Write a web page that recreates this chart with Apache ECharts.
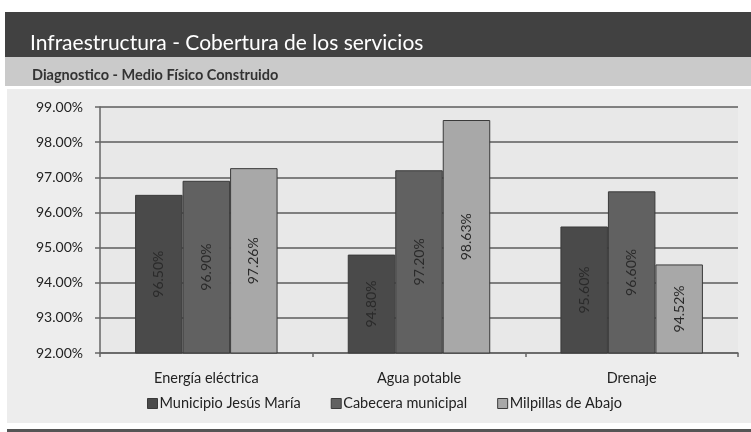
<!DOCTYPE html>
<html>
<head>
<meta charset="utf-8">
<script src="https://cdn.jsdelivr.net/npm/echarts@6/dist/echarts.min.js"></script>
<style>
html,body{margin:0;padding:0;background:#fff;}
#chart{width:751px;height:432px;}
</style>
</head>
<body>
<div id="chart"></div>
<script>
const categories = ['Energía eléctrica', 'Agua potable', 'Drenaje'];
const seriesNames = ['Municipio Jesús María', 'Cabecera municipal', 'Milpillas de Abajo'];
const municipio = [96.50, 94.80, 95.60];
const cabecera = [96.90, 97.20, 96.60];
const milpillas = [97.26, 98.63, 94.52];
const titleText = 'Infraestructura - Cobertura de los servicios';
const subtitleText = 'Diagnostico - Medio Físico Construido';

const FONT = "Lato, 'DejaVu Sans Condensed', sans-serif";
const colors = ['#4a4a4a', '#616161', '#a8a8a8'];
const values = [municipio, cabecera, milpillas];

const chart = echarts.init(document.getElementById('chart'), null, {renderer: 'canvas'});

const series = seriesNames.map((name, i) => ({
  name: name,
  type: 'bar',
  data: values[i],
  barGap: '0%',
  barCategoryGap: '33%',
  itemStyle: {color: colors[i], borderColor: '#3a3a3a', borderWidth: 1},
  label: {
    show: true,
    position: 'inside',
    rotate: 90,
    color: '#2a2a2a',
    fontFamily: FONT,
    fontSize: 14,
    formatter: p => p.value.toFixed(2) + '%'
  },
  emphasis: {disabled: true}
}));

chart.setOption({
  animation: false,
  backgroundColor: '#ffffff',
  textStyle: {fontFamily: FONT},
  graphic: [
    {type: 'rect', z: -10, shape: {x: 5, y: 12, width: 746, height: 45}, style: {fill: '#414141'}},
    {type: 'rect', z: -10, shape: {x: 5, y: 57, width: 746, height: 29}, style: {fill: '#cacaca'}},
    {type: 'rect', z: -10, shape: {x: 7, y: 89, width: 744, height: 334}, style: {fill: '#ededed'}},
    {type: 'rect', z: -10, shape: {x: 7, y: 429, width: 744, height: 3}, style: {fill: '#555555'}}
  ],
  title: [
    {text: titleText, left: 25, top: 28, textStyle: {color: '#ffffff', fontSize: 21, fontWeight: 'normal', fontFamily: FONT}},
    {text: subtitleText, left: 27, top: 63, textStyle: {color: '#333333', fontSize: 14.5, fontWeight: 'bold', fontFamily: FONT}}
  ],
  legend: {
    data: seriesNames,
    left: 142,
    top: 391,
    itemWidth: 10,
    itemHeight: 10,
    itemGap: 30,
    icon: 'rect',
    textStyle: {color: '#222222', fontSize: 14.5, fontFamily: FONT, padding: [0, 0, 0, -3]},
    itemStyle: {borderColor: '#3a3a3a', borderWidth: 1}
  },
  grid: {left: 100, right: 13, top: 107, bottom: 79, show: true, backgroundColor: '#e8e8e8', borderWidth: 0},
  xAxis: {
    type: 'category', data: categories,
    axisLine: {lineStyle: {color: '#666666', width: 1.5}},
    axisTick: {show: true, length: 4, lineStyle: {color: '#666666', width: 1.5}},
    axisLabel: {show: true, margin: 18, color: '#222222', fontSize: 14.5, fontFamily: FONT}
  },
  yAxis: {
    type: 'value', min: 92, max: 99, interval: 1,
    axisLine: {show: true, lineStyle: {color: '#666666', width: 1.5}},
    axisTick: {show: true, length: 5, lineStyle: {color: '#666666', width: 1.5}},
    splitLine: {show: true, lineStyle: {color: '#5c5c5c', width: 1.5}},
    axisLabel: {color: '#222222', fontSize: 14, margin: 17, fontFamily: FONT, formatter: v => v.toFixed(2) + '%'}
  },
  series: series
});
</script>
</body>
</html>
